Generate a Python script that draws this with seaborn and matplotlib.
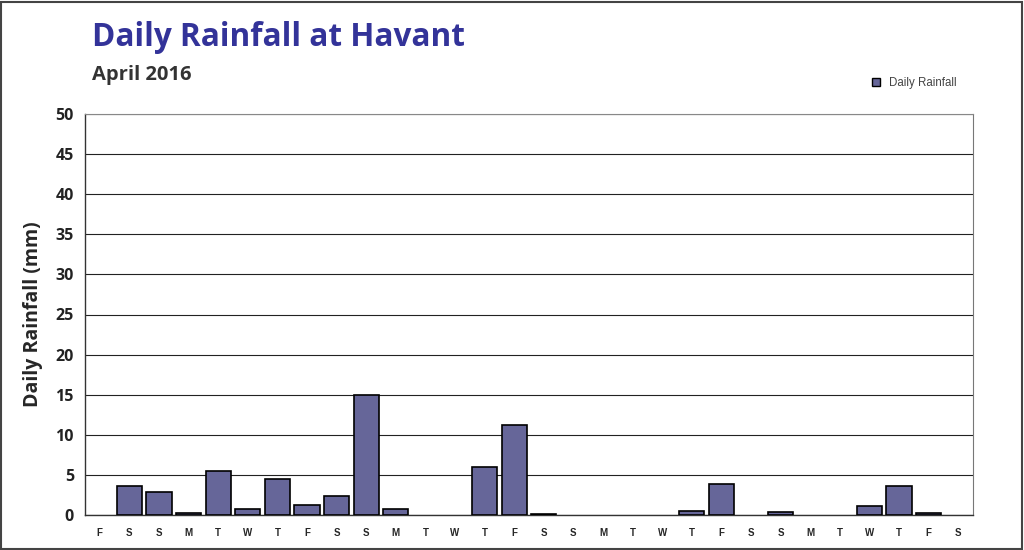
import matplotlib
matplotlib.use("Agg")
import matplotlib.pyplot as plt
import numpy as np
import pandas as pd
import seaborn as sns
from matplotlib.patches import Patch, Rectangle

# April 2016, starting on a Friday
day_letters = ["F", "S", "S", "M", "T", "W", "T", "F", "S", "S",
               "M", "T", "W", "T", "F", "S", "S", "M", "T", "W",
               "T", "F", "S", "S", "M", "T", "W", "T", "F", "S"]
rainfall_mm = [0.0, 3.6, 2.9, 0.25, 5.5, 0.7, 4.5, 1.2, 2.4, 15.0,
               0.7, 0.0, 0.0, 6.0, 11.2, 0.1, 0.0, 0.0, 0.0, 0.0,
               0.5, 3.9, 0.0, 0.4, 0.0, 0.0, 1.1, 3.6, 0.25, 0.0]

df = pd.DataFrame({"day": np.arange(1, 31), "rain": rainfall_mm})

sns.set_style("white")
plt.rcParams["font.family"] = ["Open Sans", "DejaVu Sans"]

fig = plt.figure(figsize=(10.24, 5.5), dpi=100)
ax = fig.add_axes([85 / 1024, 35 / 550, 888 / 1024, 401 / 550])

sns.barplot(data=df, x="day", y="rain", color="#666699", saturation=1,
            width=0.85, edgecolor="black", linewidth=1.2, ax=ax, zorder=3)
# dry days: no bar outline
for p in ax.patches:
    if p.get_height() == 0:
        p.set_visible(False)

ax.set_ylim(0, 50)
ax.set_xlim(-0.5, 29.5)
ax.set_yticks(range(0, 51, 5))
ax.yaxis.grid(True, color="#222222", linewidth=0.8, zorder=0)
ax.set_xticks(range(30))
ax.set_xticklabels(day_letters, fontsize=7, fontweight="bold",
                   family="Liberation Sans")
ax.set_xticks(np.arange(-0.5, 30, 1), minor=True)
ax.tick_params(axis="x", which="major", length=0, pad=9)
ax.tick_params(axis="x", which="minor", length=4, color="#555555", direction="out")
ax.tick_params(axis="y", length=5, direction="out", color="#555555", pad=3)
for lab in ax.get_yticklabels():
    lab.set_fontweight("bold")
    lab.set_fontsize(11.5)
    lab.set_color("#222222")
ax.set_xlabel("")
ax.set_ylabel("Daily Rainfall (mm)", fontsize=14, fontweight="bold", labelpad=9)

for side in ["left", "bottom"]:
    ax.spines[side].set_color("#333333")
    ax.spines[side].set_linewidth(1.0)
ax.spines["right"].set_color("#777777")
ax.spines["top"].set_color("#888888")

handle = Patch(facecolor="#666699", edgecolor="black", linewidth=1.0)
leg = ax.legend([handle], ["Daily Rainfall"], loc="center left",
                bbox_to_anchor=(862 / 1024, 1 - 83 / 550),
                bbox_transform=fig.transFigure, frameon=False,
                handlelength=0.7, handleheight=0.7, handletextpad=0.7,
                prop={"family": "Liberation Sans", "size": 8.3})
for t in leg.get_texts():
    t.set_color("#444444")

fig.text(92 / 1024, 1 - 46 / 550, "Daily Rainfall at Havant", fontsize=22.7,
         fontweight="bold", color="#333399", va="baseline")
fig.text(92 / 1024, 1 - 80 / 550, "April 2016", fontsize=14.5,
         fontweight="bold", color="#333333", va="baseline")

fig.patches.append(Rectangle((0.001, 0.002), 0.997, 0.995, transform=fig.transFigure,
                             fill=False, edgecolor="#444444", linewidth=1.5))

fig.savefig("out.png", dpi=100, facecolor="white")
